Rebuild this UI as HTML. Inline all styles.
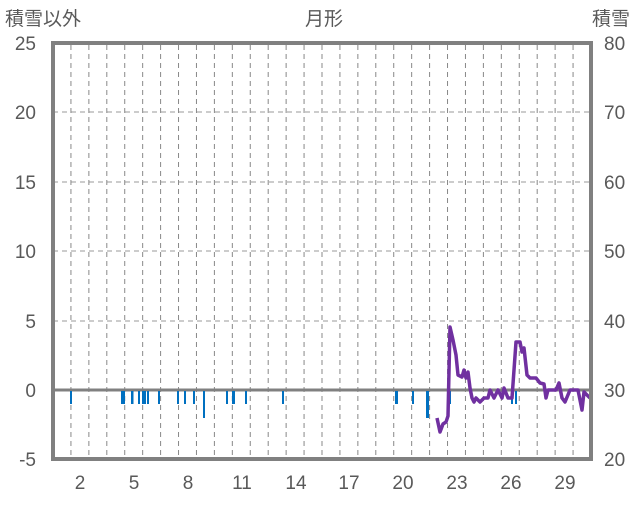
<!DOCTYPE html>
<html><head><meta charset="utf-8"><style>
body{margin:0;background:#fff;}
svg text{font-family:"Liberation Sans","Noto Sans CJK JP",sans-serif;fill:#595959;}
</style></head><body>
<svg width="636" height="501" viewBox="0 0 636 501" xmlns="http://www.w3.org/2000/svg">
<rect width="636" height="501" fill="#fff"/>
<g stroke="#999" stroke-width="1" stroke-dasharray="5,4">
<line x1="53" y1="112" x2="591" y2="112"/>
<line x1="53" y1="182" x2="591" y2="182"/>
<line x1="53" y1="251" x2="591" y2="251"/>
<line x1="53" y1="321" x2="591" y2="321"/>
</g>
<g id="vg" stroke="#888" stroke-width="1" stroke-dasharray="5,4"></g>
<line x1="53" y1="390" x2="591" y2="390" stroke="#808080" stroke-width="3"/>
<g fill="#0070c0">
<rect x="70" y="391" width="2" height="13"/>
<rect x="121" y="391" width="4" height="13"/>
<rect x="131" y="391" width="2.5" height="13"/>
<rect x="138" y="391" width="2" height="13"/>
<rect x="142" y="391" width="4" height="13"/>
<rect x="147" y="391" width="2" height="13"/>
<rect x="158" y="391" width="2" height="13"/>
<rect x="177" y="391" width="2" height="13"/>
<rect x="184" y="391" width="2" height="13"/>
<rect x="193" y="391" width="2" height="13"/>
<rect x="203" y="391" width="2" height="27"/>
<rect x="226" y="391" width="2" height="13"/>
<rect x="232" y="391" width="3" height="13"/>
<rect x="245" y="391" width="2" height="13"/>
<rect x="282" y="391" width="2" height="13"/>
<rect x="395" y="391" width="3" height="13"/>
<rect x="412" y="391" width="2" height="13"/>
<rect x="426" y="391" width="3" height="27"/>
<rect x="448" y="391" width="3" height="13"/>
<rect x="511" y="391" width="2" height="13"/>
<rect x="515" y="391" width="2" height="13"/>
</g>
<polyline fill="none" stroke="#7030a0" stroke-width="3.5" stroke-linejoin="round" points="437,418 440,432 443,424 446,422 448,416 450,327 453,340 456,355 458,375 462,377 464,370 466,378 468,372 470,388 472,398 474,402 476,398 480,402 484,398 488,398 490,390 494,398 498,390 502,398 504,388 508,398 512,398 514,370 516,342 520,342 522,352 524,348 527,375 530,378 536,378 540,383 544,384 546,398 548,390 556,390 559,383 562,398 565,402 570,390 578,390 580,400 582,410 584,392 590,398"/>
<rect x="53" y="43" width="538" height="416" fill="none" stroke="#808080" stroke-width="4"/>
<g font-size="19" text-anchor="end">
<text x="36" y="50">25</text><text x="36" y="119">20</text><text x="36" y="189">15</text>
<text x="36" y="258">10</text><text x="36" y="328">5</text><text x="36" y="397">0</text><text x="36" y="466">-5</text>
</g>
<g font-size="19" text-anchor="start">
<text x="604" y="50">80</text><text x="604" y="119">70</text><text x="604" y="189">60</text>
<text x="604" y="258">50</text><text x="604" y="328">40</text><text x="604" y="397">30</text><text x="604" y="466">20</text>
</g>
<g font-size="19" text-anchor="middle">
<text x="80" y="489">2</text><text x="134" y="489">5</text><text x="188" y="489">8</text>
<text x="242" y="489">11</text><text x="296" y="489">14</text><text x="349" y="489">17</text>
<text x="403" y="489">20</text><text x="457" y="489">23</text><text x="511" y="489">26</text><text x="565" y="489">29</text>
</g>
<text x="5" y="25" font-size="19">積雪以外</text>
<text x="324" y="25" font-size="19" text-anchor="middle">月形</text>
<text x="630" y="25" font-size="19" text-anchor="end">積雪</text>
</svg>
<script>
var g=document.getElementById('vg');
for(var k=1;k<30;k++){var x=53+k*17.933;var l=document.createElementNS('http://www.w3.org/2000/svg','line');
l.setAttribute('x1',x);l.setAttribute('x2',x);l.setAttribute('y1',45);l.setAttribute('y2',457);g.appendChild(l);}
</script>
</body></html>
